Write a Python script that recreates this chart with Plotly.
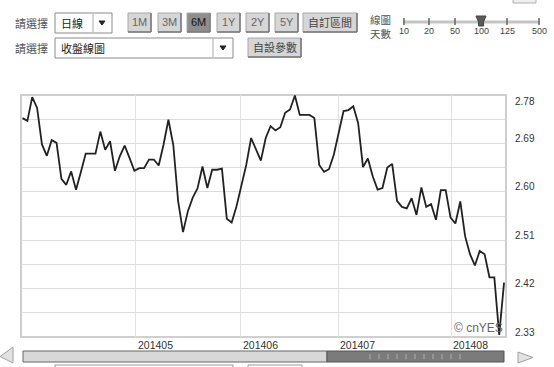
import plotly.graph_objects as go

W, H = 554, 367

# ---------------- data ----------------
yields = [
    2.737, 2.732, 2.776, 2.756, 2.688, 2.667, 2.696, 2.691, 2.624, 2.613,
    2.638, 2.604, 2.637, 2.671, 2.671, 2.671, 2.712, 2.678, 2.694, 2.639,
    2.666, 2.686, 2.663, 2.639, 2.644, 2.644, 2.660, 2.660, 2.649, 2.688,
    2.734, 2.687, 2.582, 2.525, 2.564, 2.589, 2.607, 2.647, 2.607, 2.641,
    2.641, 2.643, 2.550, 2.543, 2.573, 2.610, 2.650, 2.700, 2.678, 2.658,
    2.700, 2.722, 2.714, 2.720, 2.747, 2.753, 2.779, 2.743, 2.743, 2.743,
    2.737, 2.650, 2.637, 2.642, 2.669, 2.709, 2.750, 2.752, 2.759, 2.728,
    2.646, 2.662, 2.629, 2.604, 2.607, 2.645, 2.652, 2.583, 2.572, 2.569,
    2.588, 2.557, 2.608, 2.572, 2.577, 2.548, 2.603, 2.603, 2.552, 2.541,
    2.582, 2.517, 2.484, 2.463, 2.490, 2.484, 2.441, 2.441, 2.334, 2.431,
]
day_index = list(range(len(yields)))

month_pos = [23.3, 44.9, 64.9, 88.1]
month_labels = ["201405", "201406", "201407", "201408"]

y_tick_vals = [2.33, 2.42, 2.51, 2.60, 2.69, 2.78]
y_tick_labels = ["2.33", "2.42", "2.51", "2.60", "2.69", "2.78"]
y_grid_step = 0.045

range_buttons = ["1M", "3M", "6M", "1Y", "2Y", "5Y"]
active_button = "6M"
slider_labels = ["10", "20", "50", "100", "125", "500"]
active_slider = "100"

# ---------------- helpers (pixel -> paper) ----------------
def px(x):
    return x / W

def py(y):
    return 1 - y / H

CJK = "Noto Sans CJK TC"
LAT = "Liberation Sans, Arial"

shapes = []
ann = []

def rect(x0, y0, x1, y1, fill, line="#999", lw=1):
    shapes.append(dict(type="rect", xref="paper", yref="paper",
                       x0=px(x0), x1=px(x1), y0=py(y1), y1=py(y0),
                       fillcolor=fill, line=dict(color=line, width=lw), layer="above"))

def line(x0, y0, x1, y1, color, lw=1):
    shapes.append(dict(type="line", xref="paper", yref="paper",
                       x0=px(x0), x1=px(x1), y0=py(y0), y1=py(y1),
                       line=dict(color=color, width=lw), layer="above"))

def path(pts, fill, color, lw=1):
    d = "M " + " L ".join(f"{px(a)},{py(b)}" for a, b in pts) + " Z"
    shapes.append(dict(type="path", xref="paper", yref="paper", path=d,
                       fillcolor=fill, line=dict(color=color, width=lw), layer="above"))

def text(x, y, s, size=11, color="#444", family=CJK, xanchor="left"):
    ann.append(dict(xref="paper", yref="paper", x=px(x), y=py(y), text=s,
                    showarrow=False, xanchor=xanchor, yanchor="middle",
                    font=dict(size=size, color=color, family=family)))

# ---------------- plot geometry ----------------
L, R, T, B = 21, 506, 95, 337

fig = go.Figure()
fig.add_trace(go.Scatter(x=day_index, y=yields, mode="lines",
                         line=dict(color="#222222", width=1.8),
                         hoverinfo="skip", showlegend=False))

grid_vals = []
v = y_tick_vals[0]
while v <= y_tick_vals[-1] + 1e-9:
    grid_vals.append(round(v, 4))
    v += y_grid_step

# frame
shapes.append(dict(type="rect", xref="paper", yref="paper",
                   x0=px(L), x1=px(R), y0=py(B), y1=py(T),
                   line=dict(color="#cfcfcf", width=2), layer="below"))

# x labels (left-aligned at month gridlines)
for pos, lab in zip(month_pos, month_labels):
    ann.append(dict(xref="x", yref="paper", x=pos, y=py(345), text=lab,
                    showarrow=False, xanchor="left", yanchor="middle", xshift=0,
                    font=dict(size=10.5, color="#333", family=LAT)))

# y labels on right
for val, lab in zip(y_tick_vals, y_tick_labels):
    shift = -7 if val == max(y_tick_vals) else 5
    ann.append(dict(xref="paper", yref="y", x=px(R + 7), y=val, text=lab,
                    showarrow=False, xanchor="left", yanchor="middle", yshift=shift,
                    font=dict(size=10, color="#333", family=LAT)))

# watermark
text(505, 328, "© cnYES", size=12, color="#666", family=LAT, xanchor="right")

# ---------------- top controls ----------------
text(13, 23, "請選擇", size=11, color="#555")
text(13, 48, "請選擇", size=11, color="#555")

# dropdown 日線
rect(55, 13, 112, 33, "#ffffff", "#8a8a8a")
line(93, 14, 93, 32, "#aaa")
text(59, 23, "日線", size=11, color="#222")
path([(99, 21), (105, 21), (102, 25)], "#222", "#222")

# range buttons
bx = [128, 158, 187, 217, 246, 275]
for x0, lab in zip(bx, range_buttons):
    act = lab == active_button
    rect(x0, 13, x0 + 23, 32, "#8e8e8e" if act else "#d6d6d6", "#a8a8a8")
    line(x0 + 23, 13, x0 + 23, 32, "#777", 1.5)
    line(x0, 32, x0 + 23, 32, "#777", 1.5)
    text(x0 + 11.5, 22.5, lab, size=11, color="#111" if act else "#666",
         family=LAT, xanchor="center")

rect(303, 13, 357, 32, "#d6d6d6", "#a8a8a8")
line(357, 13, 357, 32, "#777", 1.5)
line(303, 32, 357, 32, "#777", 1.5)
text(330, 22.5, "自訂區間", size=11, color="#444", xanchor="center")

# dropdown 收盤線圖
rect(55, 38, 233, 58, "#ffffff", "#8a8a8a")
line(213, 39, 213, 57, "#aaa")
text(59, 48, "收盤線圖", size=11, color="#222")
path([(220, 46), (226, 46), (223, 50)], "#222", "#222")

rect(248, 38, 301, 57, "#d6d6d6", "#a8a8a8")
line(301, 38, 301, 57, "#777", 1.5)
line(248, 57, 301, 57, "#777", 1.5)
text(274.5, 47.5, "自設參數", size=11, color="#444", xanchor="center")

# slider 線圖天數
text(368, 26, "線圖<br>天數", size=10.5, color="#555")
line(403, 22, 540, 22, "#c4c4c4", 3)
sx = [404, 429, 455, 481, 507, 539]
for x0, lab in zip(sx, slider_labels):
    line(x0, 18, x0, 25, "#666", 1.5)
    text(x0, 31, lab, size=9, color="#444", family=LAT, xanchor="center")
    if lab == active_slider:
        path([(x0 - 5, 16), (x0 + 5, 16), (x0 + 2.5, 22), (x0 + 2.5, 26),
              (x0 - 2.5, 26), (x0 - 2.5, 22)], "#5a5a5a", "#444")

# top-right partial box
rect(513, -3, 536, 3, "#eeeeee", "#b0b0b0")

# ---------------- bottom scrollbar ----------------
path([(0, 356.5), (13, 347), (13, 363)], "#e2e2e2", "#a0a0a0")
path([(533, 357.5), (518, 352), (518, 363)], "#e2e2e2", "#a0a0a0")
rect(23, 351, 327, 362, "#d8d8d8", "#666")
rect(327, 351, 504, 362, "#7b7b7b", "#555")
for k in range(11):
    gx = 370 + k * 9
    line(gx, 354, gx, 359, "#b0b0b0", 1)
rect(55, 365, 233, 385, "#ffffff", "#999")
rect(248, 365, 302, 385, "#ffffff", "#999")

fig.update_layout(
    width=W, height=H,
    margin=dict(l=0, r=0, t=0, b=0),
    paper_bgcolor="white", plot_bgcolor="white",
    showlegend=False,
    xaxis=dict(domain=[px(L), px(R)], range=[-0.31, 99.4],
               tickvals=month_pos, showticklabels=False, ticks="",
               showgrid=True, gridcolor="#e2e2e2", gridwidth=1,
               zeroline=False, showline=False, fixedrange=True),
    yaxis=dict(domain=[py(B), py(T)], range=[y_tick_vals[0], y_tick_vals[-1]],
               tickvals=grid_vals, showticklabels=False, ticks="",
               showgrid=True, gridcolor="#dcdcdc", gridwidth=1,
               zeroline=False, showline=False, fixedrange=True),
    shapes=shapes,
    annotations=ann,
)

fig.write_html("out.html")
